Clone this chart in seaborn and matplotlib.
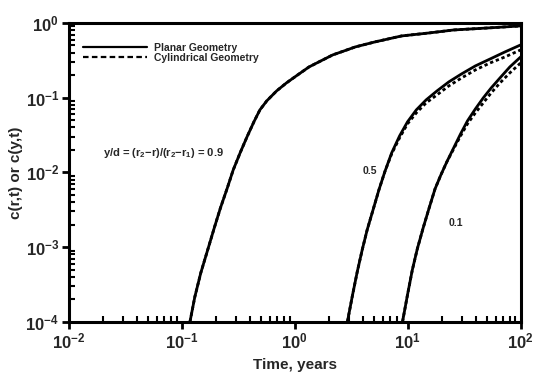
import numpy as np
import pandas as pd
import matplotlib
matplotlib.use("Agg")
import matplotlib.pyplot as plt
import seaborn as sns
from matplotlib.ticker import LogLocator, NullFormatter, FuncFormatter
from matplotlib.lines import Line2D

# ---- data (log10 values) ----
p09_logt = [-0.928, -0.885, -0.832, -0.771, -0.710, -0.658, -0.597, -0.545, -0.484, -0.423,
            -0.362, -0.309, -0.248, -0.161, -0.074, 0.013, 0.126, 0.231, 0.336, 0.449,
            0.536, 0.710, 0.946, 1.190, 1.407, 1.712, 2.000]
p09_logc = [-4.000, -3.666, -3.344, -3.037, -2.729, -2.475, -2.207, -1.967, -1.739, -1.525,
            -1.324, -1.164, -1.043, -0.910, -0.803, -0.709, -0.589, -0.508, -0.428, -0.368,
            -0.321, -0.254, -0.174, -0.134, -0.094, -0.067, -0.040]
c09_logt = list(p09_logt)
c09_logc = list(p09_logc)

p05_logt = [0.466, 0.510, 0.553, 0.597, 0.641, 0.693, 0.745, 0.797, 0.858, 0.928,
            0.998, 1.076, 1.163, 1.259, 1.364, 1.477, 1.599, 1.730, 1.861, 2.000]
p05_logc = [-4.000, -3.652, -3.331, -3.037, -2.769, -2.502, -2.234, -1.993, -1.739, -1.512,
            -1.324, -1.164, -1.030, -0.910, -0.789, -0.682, -0.575, -0.482, -0.388, -0.294]
c05_logt = list(p05_logt)
c05_logc = [-4.000, -3.652, -3.331, -3.037, -2.769, -2.502, -2.234, -1.993, -1.752, -1.538,
            -1.351, -1.204, -1.070, -0.963, -0.843, -0.736, -0.629, -0.535, -0.455, -0.361]

p01_logt = [0.954, 0.998, 1.041, 1.085, 1.137, 1.190, 1.242, 1.294, 1.346, 1.407,
            1.468, 1.529, 1.599, 1.669, 1.739, 1.817, 1.904, 2.000]
p01_logc = [-4.000, -3.639, -3.304, -3.023, -2.742, -2.475, -2.221, -2.033, -1.860, -1.672,
            -1.485, -1.311, -1.151, -1.003, -0.870, -0.736, -0.589, -0.455]
c01_logt = list(p01_logt)
c01_logc = [-4.000, -3.639, -3.304, -3.023, -2.742, -2.475, -2.221, -2.033, -1.860, -1.686,
            -1.512, -1.351, -1.204, -1.070, -0.936, -0.803, -0.669, -0.535]

legend_labels = ["Planar Geometry", "Cylindrical Geometry"]
curve_labels = ["0.5", "0.1"]
ratio_label = r"y/d = (r$_\mathbf{2}$$-$r)/(r$_\mathbf{2}$$-$r$_\mathbf{1}$) = 0.9"

sns.set_theme(style="ticks")
plt.rcParams["font.family"] = ["Liberation Sans", "DejaVu Sans"]
plt.rcParams["font.weight"] = "bold"
plt.rcParams["mathtext.fontset"] = "custom"
plt.rcParams["mathtext.rm"] = "Liberation Sans:bold"
plt.rcParams["mathtext.bf"] = "Liberation Sans:bold"
plt.rcParams["mathtext.it"] = "Liberation Sans:bold"
plt.rcParams["mathtext.default"] = "bf"

fig = plt.figure(figsize=(5.34, 3.76), dpi=100)
ax = fig.add_axes([0.129, 0.144, 0.846, 0.795])

series = [
    (p09_logt, p09_logc, "planar"), (c09_logt, c09_logc, "cyl"),
    (p05_logt, p05_logc, "planar"), (c05_logt, c05_logc, "cyl"),
    (p01_logt, p01_logc, "planar"), (c01_logt, c01_logc, "cyl"),
]
for lt, lc, kind in series:
    df = pd.DataFrame({"t": 10 ** np.array(lt), "c": 10 ** np.array(lc)})
    if kind == "planar":
        sns.lineplot(data=df, x="t", y="c", ax=ax, color="black", lw=2.0,
                     estimator=None, sort=False)
    else:
        sns.lineplot(data=df, x="t", y="c", ax=ax, color="black", lw=2.0,
                     estimator=None, sort=False, linestyle=(0, (1.2, 1.0)))

ax.set_xscale("log")
ax.set_yscale("log")
ax.set_xlim(1e-2, 1e2)
ax.set_ylim(1e-4, 1e0)

fmt = FuncFormatter(lambda v, pos: r"$\mathbf{10^{%d}}$" % int(round(np.log10(v))))
ax.xaxis.set_major_locator(LogLocator(base=10, numticks=10))
ax.yaxis.set_major_locator(LogLocator(base=10, numticks=10))
ax.xaxis.set_major_formatter(fmt)
ax.yaxis.set_major_formatter(fmt)
ax.xaxis.set_minor_locator(LogLocator(base=10, subs=np.arange(2, 10), numticks=20))
ax.yaxis.set_minor_locator(LogLocator(base=10, subs=np.arange(2, 10), numticks=20))
ax.xaxis.set_minor_formatter(NullFormatter())
ax.yaxis.set_minor_formatter(NullFormatter())

ax.tick_params(which="major", direction="out", length=5, width=2, labelsize=12, pad=2,
               top=False, right=False, color="black")
ax.tick_params(which="minor", direction="in", length=4, width=1.5,
               top=False, right=False, color="black")
for s in ax.spines.values():
    s.set_linewidth(2.2)
    s.set_color("black")

ax.set_xlabel("Time, years", fontsize=11, fontweight="bold", labelpad=5)
ax.set_ylabel("c(r,t) or c(y,t)", fontsize=11, fontweight="bold", labelpad=2)

handles = [Line2D([], [], color="black", lw=1.6),
           Line2D([], [], color="black", lw=1.6, linestyle=(0, (2.5, 1.5)))]
ax.legend(handles, legend_labels, loc="upper left", frameon=False,
          bbox_to_anchor=(0.01, 0.965), handlelength=6.2,
          handletextpad=0.6, labelspacing=0.0, prop={"weight": "bold", "size": 7.5})

ax.text(0.075, 0.565, ratio_label, transform=ax.transAxes, fontsize=8,
        fontweight="bold", va="center", ha="left")
ax.text(0.666, 0.505, curve_labels[0], transform=ax.transAxes, fontsize=7.5,
        fontweight="bold", va="center", ha="center")
ax.text(0.857, 0.33, curve_labels[1], transform=ax.transAxes, fontsize=7.5,
        fontweight="bold", va="center", ha="center")

fig.savefig("out.png", dpi=100)
